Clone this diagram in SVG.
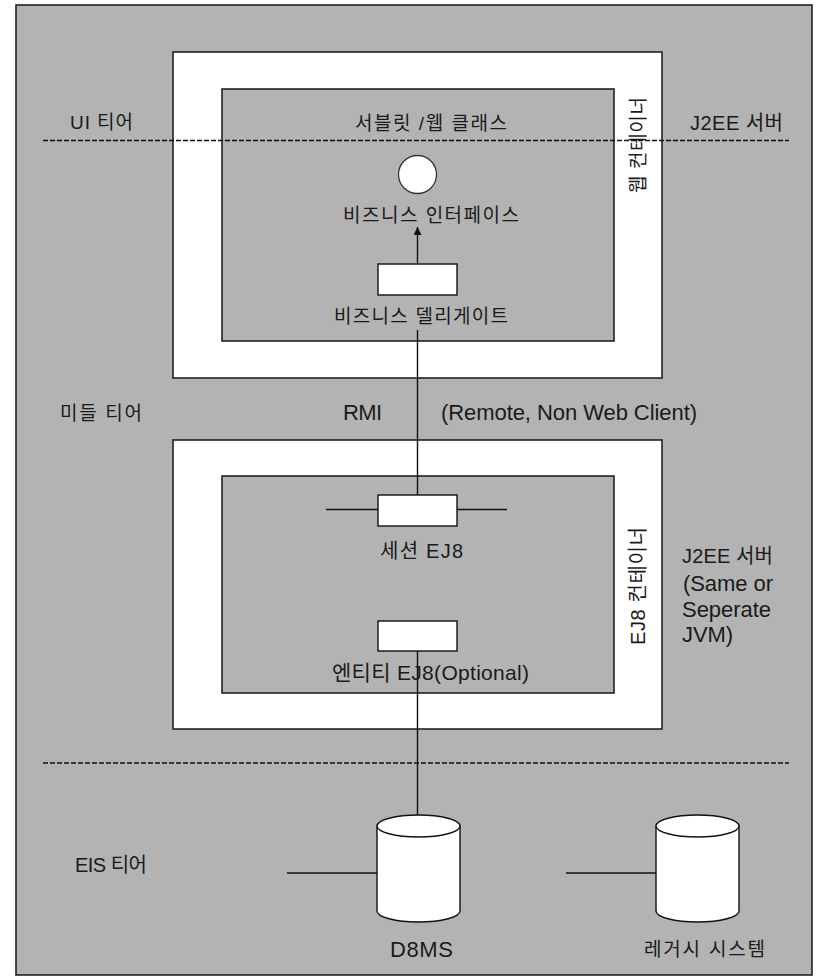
<svg xmlns="http://www.w3.org/2000/svg" width="821" height="977" viewBox="0 0 821 977">
<style>
  .gray { fill: #b3b3b3; stroke: #222; stroke-width: 1.6; }
  .white { fill: #ffffff; stroke: #222; stroke-width: 1.6; }
  .box { fill: #ffffff; stroke: #111; stroke-width: 1.4; }
  .ln { stroke: #111; stroke-width: 1.4; fill: none; }
  .dash { stroke: #111; stroke-width: 1.3; stroke-dasharray: 5 2; fill: none; }
  text { font-family: "Liberation Sans", "Noto Sans CJK KR", sans-serif; font-size: 19px; fill: #1a1a1a; }
  .lat { font-size: 22px; }
  .mix { font-size: 20px; }
</style>
<defs>
  <marker id="arr" viewBox="0 0 10 10" refX="10" refY="5" markerWidth="8" markerHeight="8" markerUnits="userSpaceOnUse" orient="auto">
    <path d="M0,0 L10,5 L0,10 z" fill="#111"/>
  </marker>
</defs>
<rect width="821" height="977" fill="#ffffff"/>
<g id="frame">
  <rect class="gray" x="16" y="5" width="796" height="970"/>
</g>
<g id="web-container">
  <rect class="white" x="173" y="52" width="489" height="326"/>
  <rect class="gray" x="222" y="89" width="392" height="252"/>
  <text transform="translate(645,145) rotate(-90)" text-anchor="middle" textLength="96">웹 컨테이너</text>
</g>
<g id="ejb-container">
  <rect class="white" x="173" y="440" width="489" height="289"/>
  <rect class="gray" x="222" y="476" width="392" height="217"/>
  <text class="mix" transform="translate(645,586) rotate(-90)" text-anchor="middle" textLength="118">EJ8 컨테이너</text>
</g>
<g id="labels">
  <text x="70" y="129" textLength="63">UI 티어</text>
  <text class="mix" x="690" y="130" textLength="93">J2EE 서버</text>
  <text x="60" y="420" textLength="82">미들 티어</text>
  <text class="lat" x="343" y="420" textLength="39">RMI</text>
  <text class="lat" x="441" y="420" textLength="256">(Remote, Non Web Client)</text>
  <text class="mix" x="682" y="563" textLength="91">J2EE 서버</text>
  <text class="lat" x="683" y="591" textLength="90">(Same or</text>
  <text class="lat" x="682" y="617" textLength="89">Seperate</text>
  <text class="lat" x="682" y="642" textLength="51">JVM)</text>
  <text class="mix" x="75" y="872" textLength="72">EIS 티어</text>
</g>
<g id="connectors">
  <line class="dash" x1="43" y1="140.5" x2="789" y2="140.5"/>
  <line class="dash" x1="43" y1="763" x2="789" y2="763"/>
  <line class="ln" x1="417.5" y1="264" x2="417.5" y2="227" marker-end="url(#arr)"/>
  <line class="ln" x1="417.5" y1="330" x2="417.5" y2="495"/>
  <line class="ln" x1="326" y1="509.5" x2="378" y2="509.5"/>
  <line class="ln" x1="457" y1="509.5" x2="507" y2="509.5"/>
  <line class="ln" x1="417.5" y1="651" x2="417.5" y2="815"/>
  <line class="ln" x1="287" y1="873" x2="377" y2="873"/>
  <line class="ln" x1="566" y1="873" x2="656" y2="873"/>
</g>
<g id="servlet">
  <text x="355" y="130" textLength="152">서블릿 /웹 클래스</text>
</g>
<g id="business-interface">
  <circle cx="417.5" cy="174.5" r="19" fill="#fff" stroke="#333" stroke-width="1.3"/>
  <text x="343" y="222" textLength="176">비즈니스 인터페이스</text>
</g>
<g id="business-delegate">
  <rect class="box" x="378" y="264" width="79" height="31"/>
  <text x="334" y="323" textLength="174">비즈니스 델리게이트</text>
</g>
<g id="session-ejb">
  <rect class="box" x="378" y="495" width="79" height="31"/>
  <text class="mix" x="380" y="558" textLength="83">세션 EJ8</text>
</g>
<g id="entity-ejb">
  <rect class="box" x="378" y="621" width="79" height="30"/>
  <text x="332" y="680" style="font-size:21px" textLength="197">엔티티 EJ8(Optional)</text>
</g>
<g id="dbms">
  <path class="box" d="M377,826 L377,911 A41.5,11 0 0 0 460,911 L460,826"/>
  <ellipse class="box" cx="418.5" cy="826" rx="41.5" ry="11"/>
  <text class="lat" x="390" y="957" textLength="63">D8MS</text>
</g>
<g id="legacy">
  <path class="box" d="M656,826 L656,911 A41.5,11 0 0 0 739,911 L739,826"/>
  <ellipse class="box" cx="697.5" cy="826" rx="41.5" ry="11"/>
  <text x="644" y="956" textLength="121">레거시 시스템</text>
</g>
</svg>
